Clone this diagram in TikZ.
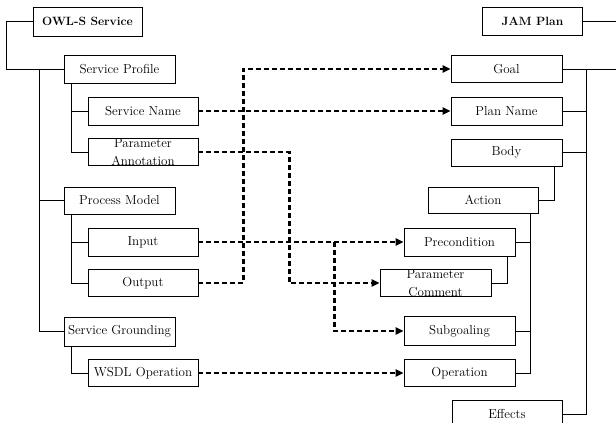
\documentclass[tikz,border=0pt]{standalone}
\usetikzlibrary{arrows.meta}
\begin{document}
\begin{tikzpicture}[x=1pt,y=-1pt,
  box/.style={draw, line width=0.8pt, inner sep=0pt, minimum width=111pt,
    minimum height=28pt, align=center, font=\fontsize{13}{18}\selectfont},
  head/.style={box, minimum width=104pt, font=\fontsize{12}{16}\selectfont\bfseries},
  link/.style={line width=0.9pt},
  ref/.style={line width=2.2pt, dash pattern=on 5pt off 3pt,
    -{Triangle[length=8pt,width=7pt]}},
  ]
\useasboundingbox (0,0) rectangle (616,423);
\clip (0,0) rectangle (616,423);

% OWL-S side
\node[head, minimum width=109pt, minimum height=29pt] (owl) at (87.5,21.5) {OWL-S Service};
\node[box] (sp)   at (119.5,69)   {Service Profile};
\node[box, minimum width=110pt] (sn)   at (143,111)    {Service Name};
\node[box, minimum width=110pt, minimum height=27pt] (pa) at (143,152) {Parameter\\Annotation};
\node[box, minimum height=27pt] (pm)   at (119.5,200.5) {Process Model};
\node[box, minimum width=110pt] (in)   at (143,242)    {Input};
\node[box, minimum width=110pt, minimum height=27pt] (out)  at (143,283) {Output};
\node[box, minimum height=29pt] (sg)   at (119.5,331.5) {Service Grounding};
\node[box, minimum width=110pt, minimum height=27pt] (wsdl) at (143,373) {WSDL Operation};

% JAM side
\node[head, minimum width=100pt] (jam) at (532.5,21) {JAM Plan};
\node[box, minimum height=27pt] (goal) at (506.5,69) {Goal};
\node[box] (pn)   at (506.5,111)  {Plan Name};
\node[box, minimum height=27pt] (body) at (506.5,152.5) {Body};
\node[box, minimum width=110pt, minimum height=26pt] (action) at (483,200) {Action};
\node[box] (pre)  at (459.5,242)  {Precondition};
\node[box, minimum height=27pt] (pc) at (435.5,283) {Parameter\\Comment};
\node[box, minimum height=29pt] (subg) at (459.5,331) {Subgoaling};
\node[box, minimum height=27pt] (op)   at (459.5,373) {Operation};
\node[box, minimum width=110pt] (eff)  at (507,414)    {Effects};

\coordinate (jamend)  at (620,21);
\coordinate (goalend) at (620,69);

% tree of the OWL-S service
\draw[link] (owl.west) -- ++(-26,0) |- (sp.west);
\draw[link] ([xshift=-24pt]sp.west) |- (sg.west);
\draw[link] (pm.west) -- ++(-24,0);
\draw[link] ([xshift=8pt]sp.south west) |- (pa.west);
\draw[link] (sn.west) -- ++(-16,0);
\draw[link] ([xshift=8pt]pm.south west) |- (out.west);
\draw[link] (in.west) -- ++(-16,0);
\draw[link] ([xshift=8pt]sg.south west) |- (wsdl.west);

% tree of the JAM plan
\draw[link] (jam.east) -- (jamend);
\draw[link] (goal.east) -- (goalend);
\draw[link] ([xshift=24pt]goal.east) |- (eff.east);
\draw[link] (pn.east) -- ++(24,0);
\draw[link] (body.east) -- ++(24,0);
\draw[link] ([xshift=-8pt]body.south east) |- (action.east);
\draw[link] ([xshift=-8pt]action.south east) |- (op.east);
\draw[link] (pre.east) -- ++(15,0);
\draw[link] (subg.east) -- ++(15,0);
\draw[link] ([xshift=-8pt]pre.south east) |- (pc.east);

% mappings
\draw[ref] (sn.east) -- (pn.west);
\draw[ref] (out.east) -- ++(45,0) |- (goal.west);
\draw[ref] (pa.east) -- ++(91,0) |- (pc.west);
\draw[ref] (in.east) -- (pre.west);
\draw[ref] ([xshift=136pt]in.east) |- (subg.west);
\draw[ref] (wsdl.east) -- (op.west);
\end{tikzpicture}
\end{document}
